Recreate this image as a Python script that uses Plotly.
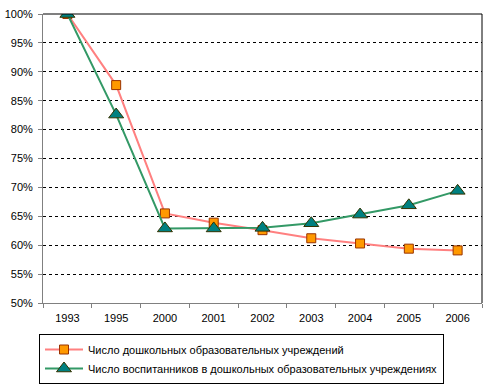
import plotly.graph_objects as go

years = ["1993", "1995", "2000", "2001", "2002", "2003", "2004", "2005", "2006"]
institutions = [1.000, 0.877, 0.655, 0.639, 0.626, 0.612, 0.603, 0.594, 0.591]
pupils = [1.000, 0.826, 0.629, 0.629, 0.630, 0.638, 0.653, 0.669, 0.694]
name_inst = "Число дошкольных образовательных учреждений"
name_pup = "Число воспитанников в дошкольных образовательных учреждениях"

font = dict(family="Liberation Sans, Arial, sans-serif", size=11, color="black")

fig = go.Figure()
fig.add_trace(go.Scatter(
    x=years, y=institutions, name=name_inst, mode="lines+markers",
    line=dict(color="#FF8080", width=2),
    marker=dict(symbol="square", size=9, color="#FF9900", line=dict(color="#993300", width=1)),
))
fig.add_trace(go.Scatter(
    x=years, y=pupils, name=name_pup, mode="lines+markers",
    line=dict(color="#339966", width=2),
    marker=dict(symbol="triangle-up", size=13, color="#008080", line=dict(color="#333300", width=1)),
))

fig.update_layout(
    width=493, height=390,
    margin=dict(l=43, r=11, t=14, b=87, autoexpand=False),
    paper_bgcolor="white", plot_bgcolor="white",
    font=font,
    showlegend=True,
    legend=dict(
        xref="container", yref="container",
        x=39 / 493, y=(390 - 334) / 390, xanchor="left", yanchor="top",
        bordercolor="black", borderwidth=1, bgcolor="white",
        font=font, tracegroupgap=0, itemwidth=38,
    ),
    xaxis=dict(
        type="category", showgrid=False, showline=True, linecolor="#808080", linewidth=1,
        ticks="outside", tickson="boundaries", ticklen=4, tickcolor="#808080",
        range=[-0.5, 8.5], zeroline=False, tickfont=font, automargin=False,
        ticklabelstandoff=5,
    ),
    yaxis=dict(
        range=[0.5, 1.0], dtick=0.05, tickformat=".0%",
        showgrid=True, gridcolor="black", gridwidth=1, griddash="3px,3px",
        showline=True, linecolor="#808080", linewidth=1,
        ticks="outside", ticklen=4, tickcolor="#808080", zeroline=False, tickfont=font,
        automargin=False, ticklabelstandoff=3,
    ),
    shapes=[
        dict(type="line", xref="paper", yref="paper", x0=0, x1=1, y0=1, y1=1,
             line=dict(color="black", width=1)),
        dict(type="line", xref="paper", yref="paper", x0=1, x1=1, y0=0, y1=1,
             line=dict(color="black", width=1)),
    ],
)

fig.write_html(
    "out.html",
    config={"displayModeBar": False},
    post_script="document.body.style.margin='0';document.body.style.overflow='hidden';",
)
